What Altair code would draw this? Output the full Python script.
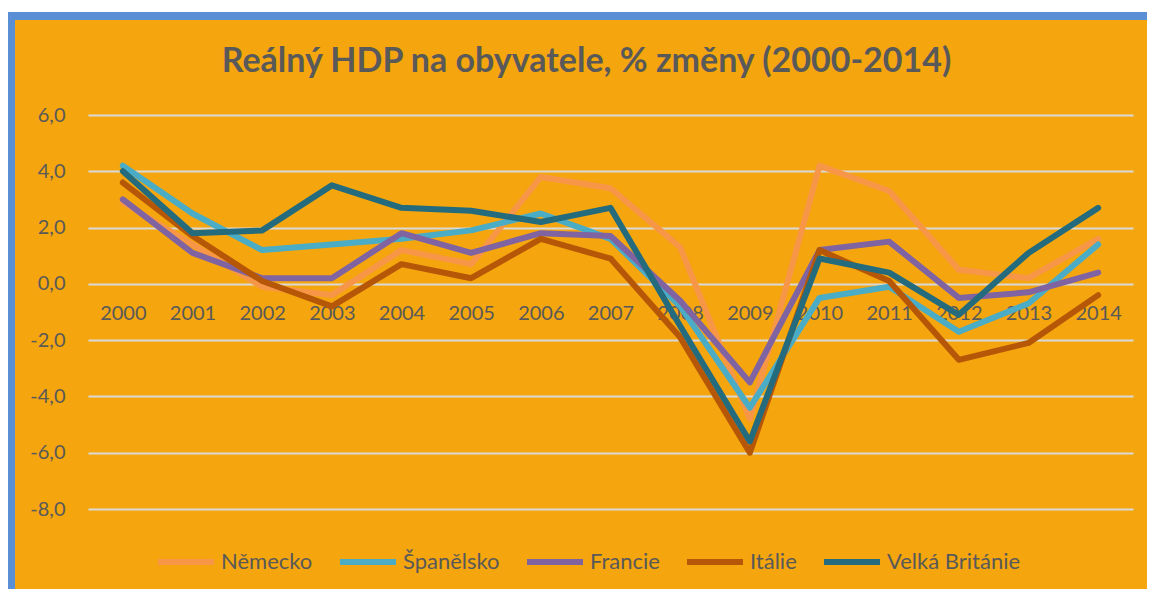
import altair as alt
import pandas as pd

years = [str(y) for y in range(2000, 2015)]
series_names = ["Německo", "Španělsko", "Francie", "Itálie", "Velká Británie"]
nemecko = [2.9, 1.4, -0.1, -0.4, 1.2, 0.7, 3.8, 3.4, 1.3, -4.8, 4.2, 3.3, 0.5, 0.2, 1.6]
spanelsko = [4.2, 2.5, 1.2, 1.4, 1.6, 1.9, 2.5, 1.6, -0.8, -4.4, -0.5, -0.1, -1.7, -0.7, 1.4]
francie = [3.0, 1.1, 0.2, 0.2, 1.8, 1.1, 1.8, 1.7, -0.6, -3.5, 1.2, 1.5, -0.5, -0.3, 0.4]
italie = [3.6, 1.7, 0.1, -0.8, 0.7, 0.2, 1.6, 0.9, -1.9, -6.0, 1.2, 0.1, -2.7, -2.1, -0.4]
velka_britanie = [4.0, 1.8, 1.9, 3.5, 2.7, 2.6, 2.2, 2.7, -1.5, -5.6, 0.9, 0.4, -1.1, 1.1, 2.7]
colors = ["#F79646", "#4BACC6", "#8064A2", "#B65708", "#236B7D"]

rows = []
for name, vals in zip(series_names, [nemecko, spanelsko, francie, italie, velka_britanie]):
    for i, (y, v) in enumerate(zip(years, vals)):
        rows.append({"rok": y, "hodnota": v, "zeme": name, "poradi": series_names.index(name)})
df = pd.DataFrame(rows)

W, H = 1045, 394
BG = "#F5A60E"
BLUE = "#5A8FD5"
TXT = "#595959"

lines = alt.Chart(df).mark_line(strokeWidth=6, strokeJoin="round", strokeCap="round").encode(
    x=alt.X("rok:O", scale=alt.Scale(type="point", padding=0.5), sort=years,
            axis=alt.Axis(title=None, labelAngle=0, ticks=False, domain=False, grid=False,
                          offset=-225, labelPadding=19, labelFontSize=20, labelColor=TXT,
                          labelFont="Lato")),
    y=alt.Y("hodnota:Q", scale=alt.Scale(domain=[-8, 6], nice=False, zero=False),
            axis=alt.Axis(title=None, values=list(range(-8, 7, 2)), ticks=False, domain=False,
                          grid=True, gridColor="#D9D9D9", gridWidth=2, labelPadding=23,
                          labelFontSize=20, labelColor=TXT, labelFont="Lato",
                          labelExpr="(datum.value < 0 ? '-' : '') + replace(format(abs(datum.value), '.1f'), '.', ',')")),
    color=alt.Color("zeme:N", scale=alt.Scale(domain=series_names, range=colors),
                    sort=series_names,
                    legend=alt.Legend(title=None, orient="none", direction="horizontal",
                                      legendX=67, legendY=416, symbolType="stroke",
                                      symbolSize=3136, symbolStrokeWidth=6, labelFontSize=22,
                                      labelColor=TXT, labelFont="Lato", labelOffset=4,
                                      columnPadding=15, labelLimit=300)),
    order=alt.Order("poradi:Q"),
    detail="zeme:N",
)

border_v = alt.Chart(df).mark_rule(color=BLUE, strokeWidth=8).encode(
    x=alt.value(-77), y=alt.value(-103), y2=alt.value(490))
border_h = alt.Chart(df).mark_rule(color=BLUE, strokeWidth=8).encode(
    x=alt.value(-81), x2=alt.value(1070), y=alt.value(-99))
white_top = alt.Chart(df).mark_rule(color="white", strokeWidth=4).encode(
    x=alt.value(-90), x2=alt.value(1070), y=alt.value(-105))

chart = alt.layer(white_top, border_h, border_v, lines).properties(
    width=W, height=H,
    autosize=alt.AutoSizeParams(type="none"),
    padding={"left": 80, "top": 107, "right": 14, "bottom": 80},
    background=BG,
    title=alt.TitleParams("Reálný HDP na obyvatele, % změny (2000-2014)", fontSize=34,
                          font="Lato", fontWeight="bold", color=TXT, anchor="middle",
                          baseline="alphabetic", offset=32, dy=130, dx=-24),
).configure_view(stroke=None)

chart.save("out.html", embed_options={"renderer": "svg", "actions": False})
